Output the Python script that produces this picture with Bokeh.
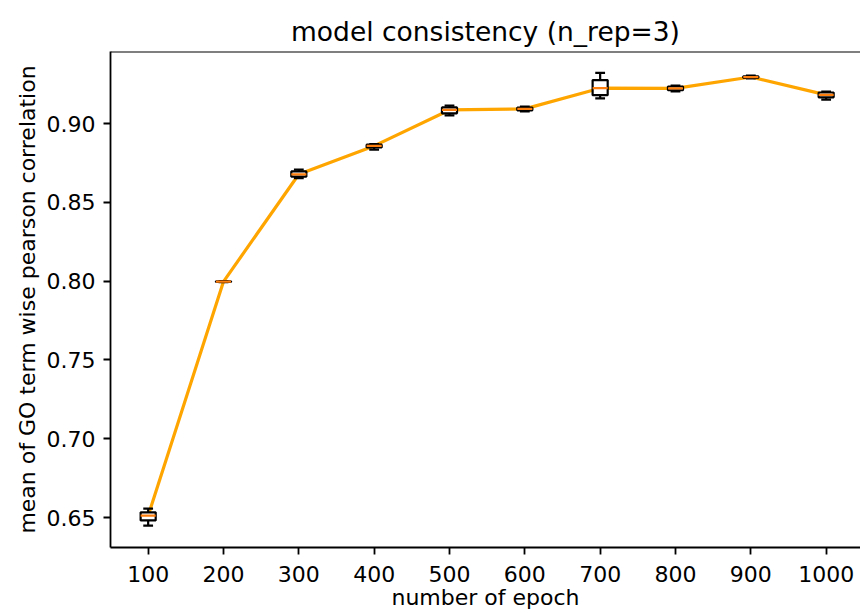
from bokeh.plotting import figure
from bokeh.models import Range1d, FixedTicker, Span, ColumnDataSource
from bokeh.embed import file_html
from bokeh.resources import INLINE

# data (box statistics of 3 repeats per epoch count)
epochs = ["100", "200", "300", "400", "500", "600", "700", "800", "900", "1000"]
median = [0.6512, 0.7997, 0.8678, 0.8858, 0.9086, 0.9093, 0.9224, 0.9223, 0.9295, 0.9182]
q1 =     [0.6482, 0.7995, 0.8663, 0.8848, 0.9065, 0.9084, 0.9180, 0.9211, 0.9290, 0.9166]
q3 =     [0.6533, 0.7999, 0.8696, 0.8866, 0.9102, 0.9101, 0.9276, 0.9235, 0.9300, 0.9197]
lo =     [0.6449, 0.7994, 0.8653, 0.8834, 0.9052, 0.9077, 0.9159, 0.9204, 0.9287, 0.9152]
hi =     [0.6557, 0.8001, 0.8708, 0.8870, 0.9113, 0.9107, 0.9321, 0.9241, 0.9304, 0.9203]
y_ticks = [0.65, 0.70, 0.75, 0.80, 0.85, 0.90]
y_tick_labels = ["0.65", "0.70", "0.75", "0.80", "0.85", "0.90"]

positions = list(range(1, len(epochs) + 1))
box_w = 0.2
cap_w = 0.13

src = ColumnDataSource(dict(
    x=positions,
    left=[x - box_w / 2 for x in positions],
    right=[x + box_w / 2 for x in positions],
    capl=[x - cap_w / 2 for x in positions],
    capr=[x + cap_w / 2 for x in positions],
    median=median, q1=q1, q3=q3, lo=lo, hi=hi,
))

FONT = "DejaVu Sans"
Y_TOP = 0.9457
Y_BOT = 0.631

p = figure(width=860, height=614, output_backend="svg", toolbar_location=None,
           x_range=Range1d(0.5, 10.456), y_range=Range1d(Y_BOT, Y_TOP),
           min_border_left=110, min_border_right=0, min_border_top=51,
           min_border_bottom=67, title="model consistency (n_rep=3)")

p.title.text_font = FONT
p.title.text_font_size = "26.5px"
p.title.text_font_style = "normal"
p.title.align = "center"
p.title.standoff = 10
p.title.text_color = "black"

p.outline_line_color = None
p.grid.visible = False
p.background_fill_color = "white"
p.border_fill_color = "white"

LW = 2.2
# connecting line through medians
p.line("x", "median", source=src, line_color="#FFA500", line_width=3.2)

# boxes
p.quad(left="left", right="right", bottom="q1", top="q3", source=src,
       fill_color="white", line_color="black", line_width=LW)
p.segment(x0="x", y0="q3", x1="x", y1="hi", source=src, line_color="black", line_width=LW)
p.segment(x0="x", y0="q1", x1="x", y1="lo", source=src, line_color="black", line_width=LW)
p.segment(x0="capl", y0="hi", x1="capr", y1="hi", source=src, line_color="black", line_width=LW)
p.segment(x0="capl", y0="lo", x1="capr", y1="lo", source=src, line_color="black", line_width=LW)
p.segment(x0="left", y0="median", x1="right", y1="median", source=src,
          line_color="#FF7F0E", line_width=LW)

# top spine
p.add_layout(Span(location=Y_TOP, dimension="width", line_color="black", line_width=1.8))

# axes
p.xaxis.ticker = FixedTicker(ticks=positions)
p.xaxis.major_label_overrides = {x: e for x, e in zip(positions, epochs)}
p.yaxis.ticker = FixedTicker(ticks=y_ticks)
p.yaxis.major_label_overrides = {t: s for t, s in zip(y_ticks, y_tick_labels)}
p.xaxis.axis_label = "number of epoch"
p.yaxis.axis_label = "mean of GO term wise pearson correlation"

for ax in (p.xaxis, p.yaxis):
    ax.axis_line_color = "black"
    ax.axis_line_width = 1.8
    ax.major_tick_line_color = "black"
    ax.major_tick_line_width = 1.8
    ax.major_tick_out = 7
    ax.major_tick_in = 0
    ax.minor_tick_line_color = None
    ax.major_label_text_font = FONT
    ax.major_label_text_font_size = "22px"
    ax.major_label_text_color = "black"
    ax.axis_label_text_font = FONT
    ax.axis_label_text_font_size = "22px"
    ax.axis_label_text_font_style = "normal"
    ax.axis_label_text_color = "black"
    ax.major_label_standoff = 8
    ax.axis_label_standoff = 4

p.xaxis.major_label_standoff = 11
p.xaxis.axis_label_standoff = 0

open("out.html", "w").write(file_html(p, INLINE))
